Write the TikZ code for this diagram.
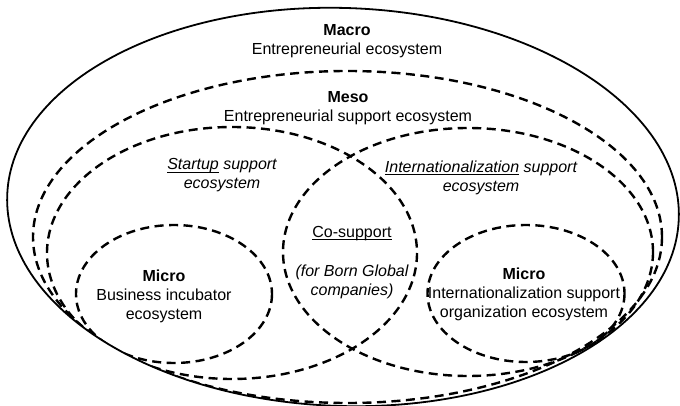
\documentclass[tikz,border=0pt]{standalone}
\usepackage{fontspec}
\setmainfont{Liberation Sans}
\usetikzlibrary{positioning}

% underline drawn at a fixed depth, through the descenders
\newcommand{\ulined}[1]{\setbox0=\hbox{#1}\rlap{\rule[-2.6pt]{\wd0}{0.9pt}}\box0\relax}

\begin{document}
\begin{tikzpicture}[
    x=1pt, y=-1pt,
    macro/.style={line width=1.8pt},
    support/.style={line width=2.4pt, dash pattern=on 9pt off 5.5pt},
    txt/.style={font=\fontsize{16}{19}\selectfont, align=center, inner sep=0pt},
    itxt/.style={txt, font=\fontsize{16}{19}\selectfont\itshape}
]
    \useasboundingbox (0,0) rectangle (680,406);

    % meso and micro ecosystems, kept inside the macro one
    \begin{scope}
        \clip[rotate around={-2:(343,207)}] (343,207) ellipse [x radius=336, y radius=199];
        \draw[support] (347.5,237) ellipse [x radius=314.5, y radius=166];
        \draw[support] (232,253) ellipse [x radius=185, y radius=126];
        \draw[support] (468,252) ellipse [x radius=185, y radius=124];
        \draw[support] (174,294) ellipse [x radius=98, y radius=69];
        \draw[support] (526,293.5) ellipse [x radius=98.5, y radius=68.5];
    \end{scope}

    % macro ecosystem
    \draw[macro, rotate around={-2:(343,207)}] (343,207) ellipse [x radius=336, y radius=199];

    % texts
    \node[txt] (macro) at (347,41.5) {\textbf{Macro}\\Entrepreneurial ecosystem};
    \node[txt] (meso) at (348,108) {\textbf{Meso}\\Entrepreneurial support ecosystem};
    \node[itxt] (startup) at (222,175.5) {\ulined{Startup} support\\ecosystem};
    \node[itxt] (intl) at (481,178) {\ulined{Internationalization} support\\ecosystem};
    \node[txt] (cosupport) at (352,233.5) {\ulined{Co-support}};
    \node[itxt, below=24pt of cosupport] (bornglobal) {(for Born Global\\companies)};
    \node[txt] (microL) at (164,296) {\textbf{Micro}\\Business incubator\\ecosystem};
    \node[txt] (microR) at (524,294) {\textbf{Micro}\\Internationalization support\\organization ecosystem};
\end{tikzpicture}
\end{document}
